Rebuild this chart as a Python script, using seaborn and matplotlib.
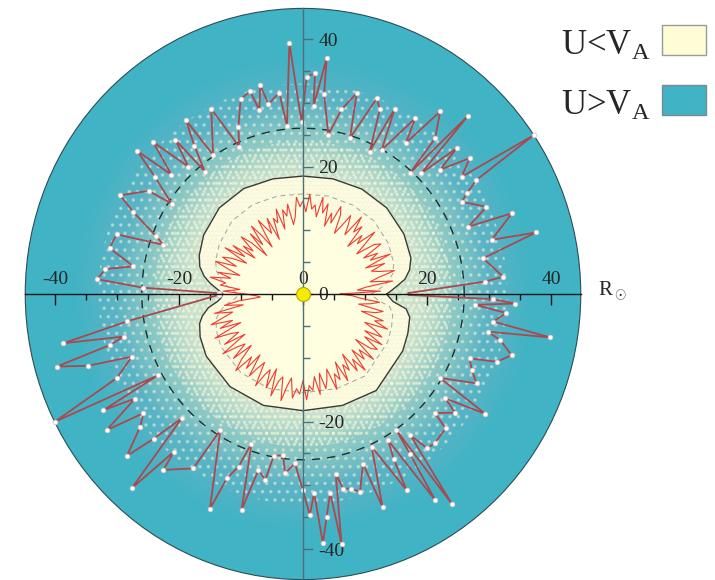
import numpy as np
import matplotlib
matplotlib.use('Agg')
import matplotlib.pyplot as plt
from matplotlib.patches import Circle, Polygon, Rectangle
import seaborn as sns
import pandas as pd

# outer boundary (U = V_A crossing), angle in degrees, radius in R_sun
outer_theta = [0.5, 3.8, 4.8, 10.9, 14.4, 15.6, 20.6, 21.6, 24.8, 29.5, 30.9, 32.6,
               33.8, 35.7, 38.4, 41.4, 42.7, 44.8, 46.4, 47.7, 48.9, 52.3, 55.0, 56.7,
               60.7, 63.0, 64.3, 66.8, 68.8, 72.8, 74.6, 77.9, 80.7, 83.8, 84.1, 86.7,
               86.8, 89.0, 90.5, 93.2, 95.6, 96.9, 100.6, 101.9, 103.7, 105.0, 108.2, 111.7,
               114.0, 117.0, 123.6, 124.7, 127.0, 129.5, 130.4, 132.8, 135.4, 138.6, 140.0, 142.4,
               146.2, 147.0, 152.3, 154.8, 159.1, 161.1, 162.7, 167.0, 171.0, 173.0, 176.0, 177.8,
               179.5, 180.5, 188.6, 191.3, 193.0, 194.4, 196.0, 198.0, 199.6, 203.7, 206.6, 208.6,
               209.5, 211.2, 214.0, 216.0, 218.4, 221.8, 223.3, 224.9, 227.8, 229.9, 230.8, 237.1,
               238.0, 246.0, 247.0, 249.0, 250.5, 253.7, 255.4, 258.2, 259.5, 262.8, 264.1, 267.2,
               270.0, 271.8, 273.3, 274.7, 276.2, 278.0, 279.0, 280.6, 282.0, 284.3, 286.5, 290.0,
               291.0, 294.8, 298.5, 299.5, 300.9, 303.4, 304.5, 305.2, 306.1, 308.0, 309.6, 312.3,
               317.5, 318.7, 322.8, 324.5, 327.4, 329.2, 333.4, 336.4, 339.4, 341.2, 344.1, 347.2,
               348.8, 350.3, 352.0, 354.8, 356.5, 357.5, 358.5, 359.5]
outer_r = [17.0, 29.4, 32.4, 29.6, 38.8, 31.6, 36.0, 28.7, 32.6, 29.4, 30.8, 33.2,
           44.8, 31.5, 34.3, 29.5, 33.7, 26.9, 38.6, 25.7, 32.4, 36.2, 28.9, 33.0,
           25.9, 32.6, 24.8, 31.5, 32.9, 25.6, 32.7, 29.6, 25.3, 31.5, 37.2, 29.5,
           34.7, 34.1, 27.0, 39.4, 26.5, 31.8, 30.3, 33.5, 29.7, 32.9, 32.2, 28.2,
           25.3, 32.6, 26.2, 33.2, 29.1, 24.9, 31.8, 27.2, 34.0, 28.3, 34.9, 30.2,
           25.5, 29.7, 33.3, 30.3, 25.3, 23.8, 31.5, 32.0, 27.7, 32.1, 33.3, 25.8,
           13.5, 13.5, 28.7, 39.4, 29.7, 32.1, 41.3, 36.4, 29.3, 32.8, 44.8, 26.6,
           37.0, 31.7, 38.2, 31.8, 33.5, 38.1, 33.1, 27.6, 41.1, 32.4, 35.6, 32.6,
           25.2, 36.9, 31.4, 29.0, 24.9, 35.3, 28.5, 29.8, 25.8, 25.5, 28.3, 26.6,
           30.8, 34.7, 31.3, 39.2, 35.2, 31.5, 39.7, 28.7, 31.2, 31.5, 32.4, 28.3,
           35.8, 26.4, 35.0, 29.7, 26.7, 38.7, 30.5, 26.1, 40.7, 28.1, 31.4, 31.6,
           31.2, 28.3, 30.8, 28.2, 34.9, 25.7, 31.3, 29.7, 28.7, 33.0, 35.0, 32.6,
           30.4, 40.4, 31.0, 32.9, 27.8, 34.2, 30.6, 17.0]

# inner boundary, every 2 degrees
inner_theta = list(range(0, 360, 2))
inner_r = [6.0, 12.5, 8.8, 10.2, 14.6, 11.0, 12.4, 15.2, 12.8, 11.6, 14.0, 10.9,
           15.4, 12.1, 13.6, 11.3, 14.8, 13.9, 10.7, 12.6, 15.1, 11.8, 13.2, 10.4,
           14.2, 12.7, 15.3, 11.5, 13.0, 14.5, 12.2, 10.8, 13.8, 15.0, 12.0, 13.5,
           11.2, 14.7, 13.1, 15.5, 12.3, 14.1, 13.4, 15.7, 12.9, 14.6, 13.7, 15.2,
           12.1, 11.0, 14.3, 12.5, 13.6, 10.6, 14.0, 11.9, 12.8, 9.4, 13.2, 10.8,
           12.0, 13.6, 8.9, 11.4, 13.5, 10.1, 12.7, 8.4, 11.6, 13.4, 10.5, 12.2,
           9.6, 13.6, 11.1, 14.5, 10.3, 12.8, 14.2, 11.6, 15.0, 12.7, 10.6, 14.1,
           11.9, 15.2, 12.6, 13.4, 10.2, 12.9, 9.3, 7.6, 6.9, 10.4, 12.8, 9.8,
           14.6, 11.7, 13.3, 15.6, 12.1, 14.4, 11.0, 15.8, 13.2, 12.0, 14.9, 11.3,
           16.0, 13.5, 12.2, 15.1, 11.6, 14.3, 16.2, 12.9, 14.8, 11.8, 15.5, 13.6,
           12.4, 16.3, 14.1, 13.0, 15.9, 12.5, 16.8, 14.2, 13.4, 17.1, 14.6, 13.3,
           16.4, 14.9, 15.7, 13.6, 16.6, 14.4, 15.2, 13.1, 16.0, 12.7, 15.3, 14.0,
           12.4, 15.9, 13.5, 14.7, 11.9, 15.4, 12.8, 14.1, 11.4, 14.9, 13.0, 15.6,
           11.8, 14.2, 12.6, 15.3, 11.1, 13.9, 14.8, 12.0, 15.0, 11.5, 14.4, 12.9,
           10.9, 14.7, 12.3, 13.6, 9.8, 12.1, 13.2, 9.1, 11.0, 12.4, 9.2, 8.0]

# smooth U = V_A contour
contour_theta = [0, 2, 4.4, 8, 12.4, 18, 30, 45, 60, 75, 90, 105, 120, 135, 150, 160,
                 165.5, 170, 173.5, 177, 180, 183, 185, 188, 192, 195.5, 202, 212, 231,
                 250, 270, 290, 308, 331, 340, 348, 352, 355.3, 358]
contour_r = [13.5, 14.2, 15.1, 16.6, 17.6, 18.3, 18.8, 19.1, 19.0, 18.7, 18.5, 18.7,
             19.1, 19.1, 18.5, 17.8, 17.2, 16.2, 15.1, 13.8, 12.9, 13.3, 13.9, 15.4,
             16.6, 17.3, 17.9, 18.4, 18.7, 18.6, 18.3, 18.6, 19.2, 18.4, 18.0, 17.6,
             16.8, 14.6, 13.9]
inner_dash_r = [11.0, 11.8, 12.6, 13.9, 14.8, 15.4, 15.9, 16.2, 16.1, 15.9, 15.7, 15.9,
                16.2, 16.2, 15.6, 15.0, 14.4, 13.5, 12.5, 11.3, 10.5, 10.8, 11.4, 12.7,
                13.8, 14.5, 15.1, 15.6, 15.9, 15.8, 15.5, 15.8, 16.3, 15.6, 15.2, 14.8,
                14.1, 12.2, 11.4]

tick_values = [-40, -20, 0, 20, 40]
legend_labels = ['U<$\\mathrm{V}_\\mathrm{A}$', 'U>$\\mathrm{V}_\\mathrm{A}$']

teal = '#40b3c5'
cream = '#fffee0'
disk_r = 44.8
dash_circle_r = 26.0


def polar_frame(theta, r):
    t = np.deg2rad(np.append(theta, theta[0]))
    rr = np.append(r, r[0])
    return pd.DataFrame({'x': rr * np.cos(t), 'y': rr * np.sin(t)})


sns.set_theme(style='white')
plt.rcParams['font.family'] = ['Liberation Serif', 'DejaVu Serif']
plt.rcParams['mathtext.fontset'] = 'custom'
plt.rcParams['mathtext.rm'] = 'Liberation Serif'
plt.rcParams['mathtext.it'] = 'Liberation Serif:italic'
plt.rcParams['axes.unicode_minus'] = False
plt.rcParams['hatch.linewidth'] = 1.4

fig = plt.figure(figsize=(7.15, 5.8), dpi=100)
ax = fig.add_axes([0, 0, 1, 1])
cx, cy, sx, sy = 303, 294, 6.2, 6.375
ax.set_xlim(-cx / sx, (715 - cx) / sx)
ax.set_ylim(-(580 - cy) / sy, cy / sy)

# disk
ax.add_patch(Circle((0, 0), disk_r, facecolor=teal, edgecolor='#2e4d55', lw=0.8, zorder=0))

# speckled transition zone: soft cream gradient plus fine flecks
for rad in np.arange(37, 18.5, -0.5):
    a = 0.012 if rad > 30 else (0.035 if rad > 24 else 0.07)
    ax.add_patch(Circle((0, 0), rad, facecolor=(1, 0.99, 0.86, a), lw=0, zorder=0.5))
ax.add_patch(Circle((0, 0), 33, facecolor='none', edgecolor=(1, 0.99, 0.86, 0.4),
                    hatch='..', lw=0, zorder=0.6))
ax.add_patch(Circle((0, 0), 24, facecolor='none', edgecolor=(1, 0.99, 0.86, 0.6),
                    hatch='...', lw=0, zorder=0.6))

cont = polar_frame(contour_theta, contour_r)
ax.add_patch(Polygon(cont[['x', 'y']].values, closed=True, facecolor=(1, 0.99, 0.88, 0.75),
                     edgecolor=(1, 0.99, 0.88, 0.9), hatch='oooo', lw=0, zorder=0.8))

inner = polar_frame(inner_theta, inner_r)
ax.add_patch(Polygon(inner[['x', 'y']].values, closed=True, facecolor=cream, lw=0, zorder=1))

# contours
sns.lineplot(data=cont, x='x', y='y', sort=False, estimator=None, color='#3a3a36', lw=1.0, ax=ax, zorder=2)
dash = polar_frame(contour_theta, inner_dash_r)
sns.lineplot(data=dash, x='x', y='y', sort=False, estimator=None, color='#55605a', lw=0.7,
             ax=ax, zorder=2, alpha=0.55, linestyle=(0, (5, 4)))
tt = np.linspace(0, 2 * np.pi, 361)
ax.plot(dash_circle_r * np.cos(tt), dash_circle_r * np.sin(tt), color='#1f2f33', lw=1.0,
        ls=(0, (6, 5)), zorder=2)

sns.lineplot(data=inner, x='x', y='y', sort=False, estimator=None, color='#ee3c30', lw=0.8, ax=ax, zorder=3)

outer = polar_frame(outer_theta, outer_r)
sns.lineplot(data=outer, x='x', y='y', sort=False, estimator=None, color='#a84a50', lw=1.3, ax=ax, zorder=3)
sns.scatterplot(data=outer.iloc[1:-2], x='x', y='y', color='white', edgecolor='#d8bfbf',
                linewidth=0.5, s=12, ax=ax, zorder=4)

# axes through the centre
for side in ['left', 'bottom']:
    ax.spines[side].set_visible(False)
ax.spines['top'].set_position(('data', 0))
ax.spines['top'].set_bounds(-disk_r, disk_r)
ax.spines['top'].set_color('#151515')
ax.spines['right'].set_position(('data', 0))
ax.spines['right'].set_bounds(-disk_r, disk_r)
ax.spines['right'].set_color('#4d6f78')
for side in ['top', 'right']:
    ax.spines[side].set_linewidth(1.0)
    ax.spines[side].set_zorder(5)
ax.xaxis.set_ticks_position('top')
ax.yaxis.set_ticks_position('right')
ax.set_xticks(tick_values)
ax.set_xticklabels([str(v) for v in tick_values])
ax.set_xticks(np.arange(-40, 41, 5), minor=True)
ax.set_yticks(tick_values)
ax.set_yticklabels([str(v) for v in tick_values])
ax.set_yticks(np.arange(-40, 41, 5), minor=True)
ax.tick_params(axis='x', which='major', direction='in', length=8, width=1, color='#151515',
               pad=4, labelsize=14, top=True, bottom=False, labeltop=True, labelbottom=False)
ax.tick_params(axis='x', which='minor', direction='in', length=4.5, width=1, color='#151515',
               top=True, bottom=False)
ax.tick_params(axis='y', which='major', direction='out', length=7, width=1, color='#4d6f78',
               pad=4, labelsize=14, right=True, left=False, labelright=True, labelleft=False)
ax.tick_params(axis='y', which='minor', direction='out', length=5, width=1, color='#4d6f78',
               right=True, left=False)
ax.set_xlabel('')
ax.set_ylabel('')
ax.set_axisbelow(False)

ax.text(47.5, 0.4, 'R$_\\odot$', fontsize=15, va='center', ha='left')

# sun
ax.plot(0, 0, 'o', ms=10, mfc='#f6ec00', mec='#b5a600', mew=0.8, zorder=6)

# legend
ax.text(56.0, 37.5, legend_labels[0], fontsize=25, ha='right', va='baseline')
ax.text(56.0, 28.1, legend_labels[1], fontsize=25, ha='right', va='baseline')
ax.add_patch(Rectangle((57.9, 37.5), 7.1, 4.7, facecolor='#fffcd6', edgecolor='#9a9a9a', lw=1.0))
ax.add_patch(Rectangle((57.9, 28.1), 7.1, 4.7, facecolor=teal, edgecolor='#7a8a8e', lw=1.0))

fig.savefig('out.png', dpi=100)
